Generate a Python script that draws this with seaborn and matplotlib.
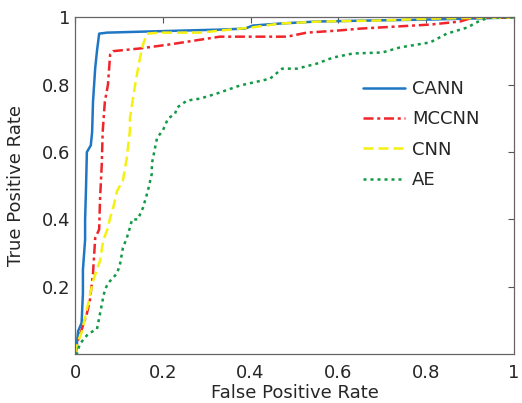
"""ROC curves: CANN vs MCCNN vs CNN vs AE"""
import numpy as np
import pandas as pd
import matplotlib
matplotlib.use("Agg")
import matplotlib.pyplot as plt
import seaborn as sns

# ---- data ----
cann_fpr = [0.0, 0.002, 0.007, 0.015, 0.018, 0.018, 0.023, 0.023, 0.025, 0.027, 0.036,
            0.039, 0.041, 0.046, 0.05, 0.055, 0.073, 0.155, 0.33, 0.387, 0.405,
            0.467, 0.55, 0.67, 0.81, 1.0]
cann_tpr = [0.0, 0.0, 0.068, 0.092, 0.18, 0.25, 0.34, 0.40, 0.49, 0.60, 0.62,
            0.66, 0.75, 0.85, 0.90, 0.952, 0.955, 0.958, 0.964, 0.967, 0.976,
            0.982, 0.988, 0.991, 0.994, 1.0]

mccnn_fpr = [0.0, 0.007, 0.027, 0.034, 0.041, 0.046, 0.055, 0.057, 0.061, 0.063, 0.068,
             0.075, 0.08, 0.087, 0.148, 0.216, 0.33, 0.483, 0.528, 0.597, 0.65,
             0.81, 0.877, 0.907, 1.0]
mccnn_tpr = [0.0, 0.04, 0.12, 0.16, 0.24, 0.345, 0.37, 0.46, 0.565, 0.66, 0.75,
             0.80, 0.89, 0.90, 0.908, 0.92, 0.943, 0.943, 0.955, 0.961, 0.967,
             0.979, 0.988, 1.0, 1.0]

cnn_fpr = [0.0, 0.005, 0.016, 0.03, 0.041, 0.057, 0.064, 0.075, 0.08, 0.087, 0.096,
           0.109, 0.118, 0.125, 0.125, 0.137, 0.148, 0.155, 0.164, 0.194, 0.285,
           0.33, 0.40, 0.467, 0.558, 0.695, 0.825, 1.0]
cnn_tpr = [0.0, 0.03, 0.068, 0.15, 0.217, 0.277, 0.336, 0.375, 0.405, 0.435, 0.485,
           0.515, 0.583, 0.664, 0.70, 0.80, 0.88, 0.92, 0.952, 0.955, 0.955,
           0.961, 0.97, 0.982, 0.988, 0.991, 0.997, 1.0]

ae_fpr = [0.0, 0.005, 0.011, 0.03, 0.05, 0.057, 0.064, 0.068, 0.075, 0.096, 0.103,
          0.109, 0.118, 0.125, 0.13, 0.143, 0.155, 0.166, 0.175, 0.175, 0.187,
          0.20, 0.212, 0.228, 0.232, 0.255, 0.285, 0.323, 0.376, 0.444, 0.472,
          0.506, 0.551, 0.588, 0.633, 0.70, 0.74, 0.809, 0.847, 0.893, 0.923,
          0.945, 1.0]
ae_tpr = [0.0, 0.003, 0.03, 0.06, 0.074, 0.12, 0.167, 0.19, 0.21, 0.24, 0.27,
          0.315, 0.345, 0.375, 0.40, 0.40, 0.435, 0.485, 0.536, 0.565, 0.643,
          0.664, 0.70, 0.714, 0.732, 0.753, 0.759, 0.774, 0.798, 0.818, 0.848,
          0.848, 0.863, 0.881, 0.893, 0.896, 0.911, 0.926, 0.952, 0.97, 0.991,
          1.0, 1.0]

models = ["CANN", "MCCNN", "CNN", "AE"]
curves = [(cann_fpr, cann_tpr), (mccnn_fpr, mccnn_tpr), (cnn_fpr, cnn_tpr), (ae_fpr, ae_tpr)]
colors = ["#1f77c4", "#f0252a", "#f5f010", "#119a45"]
dashes = ["-", (0, (4, 1.5, 1.2, 1.5)), (0, (4, 2)), (0, (1.2, 1.6))]

sns.set_style("white")
plt.rcParams["font.family"] = ["DejaVu Sans"]

fig = plt.figure(figsize=(5.22, 4.03), dpi=100)
ax = fig.add_axes([0.1437, 0.1216, 0.841, 0.835])

for name, (fx, ty), c, ls in zip(models, curves, colors, dashes):
    df = pd.DataFrame({"fpr": fx, "tpr": ty})
    sns.lineplot(data=df, x="fpr", y="tpr", sort=False, estimator=None,
                 color=c, linestyle=ls, linewidth=1.8, label=name, ax=ax)

ax.set_xlim(0, 1)
ax.set_ylim(0, 1)
ax.set_xticks([0, 0.2, 0.4, 0.6, 0.8, 1])
ax.set_xticklabels(["0", "0.2", "0.4", "0.6", "0.8", "1"])
ax.set_yticks([0.2, 0.4, 0.6, 0.8, 1])
ax.set_yticklabels(["0.2", "0.4", "0.6", "0.8", "1"])
ax.tick_params(direction="in", top=True, right=True, length=4, width=0.8,
               colors="#555555", labelcolor="#262626", labelsize=13)
ax.tick_params(axis="x", pad=7)
for sp in ax.spines.values():
    sp.set_color("#666666")
    sp.set_linewidth(0.9)

ax.set_xlabel("False Positive Rate", fontsize=13, color="#262626", labelpad=2)
ax.set_ylabel("True Positive Rate", fontsize=13, color="#262626", labelpad=12)

ax.legend(loc="upper left", bbox_to_anchor=(0.62, 0.862), frameon=False,
          fontsize=13, handlelength=2.3, handletextpad=0.4, labelspacing=0.68)

plt.savefig("out.png", dpi=100)
plt.close()
